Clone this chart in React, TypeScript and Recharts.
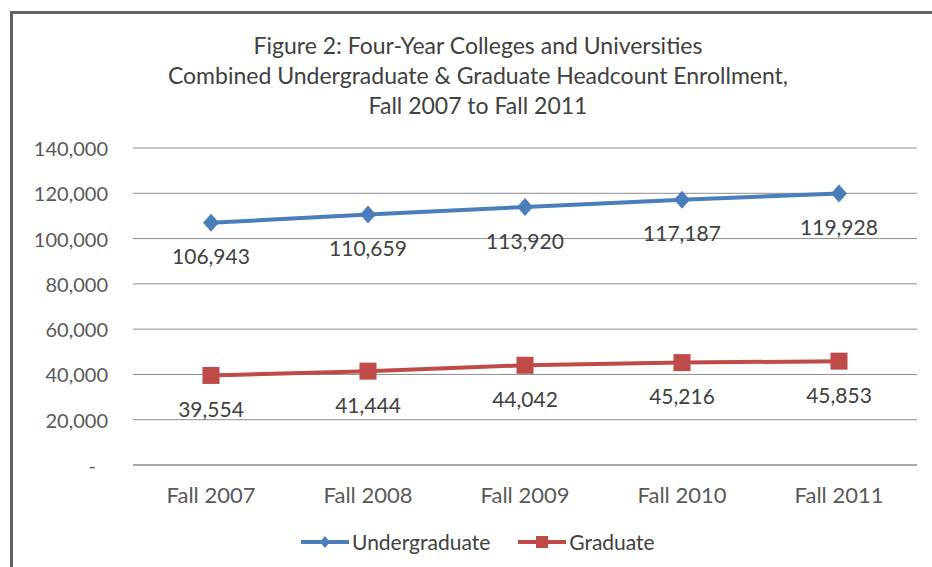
import React from "react";
import {
  LineChart,
  Line,
  XAxis,
  YAxis,
  CartesianGrid,
  Legend,
  LabelList,
} from "recharts";

const years = ["Fall 2007", "Fall 2008", "Fall 2009", "Fall 2010", "Fall 2011"];
const undergraduate = [106943, 110659, 113920, 117187, 119928];
const graduate = [39554, 41444, 44042, 45216, 45853];
const yTicks = [0, 20000, 40000, 60000, 80000, 100000, 120000, 140000];

const data = years.map((year, i) => ({
  year,
  undergrad: undergraduate[i],
  grad: graduate[i],
}));

const FONT = "Lato, 'Noto Sans', sans-serif";
const BLUE = "#4a7ebb";
const RED = "#be4b48";

const fmt = (v: number) => v.toLocaleString("en-US");

const Diamond = (props: any) => {
  const { cx, cy, index } = props;
  if (cx == null || cy == null) return null;
  return (
    <polygon
      key={`d-${index}`}
      points={`${cx},${cy - 9} ${cx + 8},${cy} ${cx},${cy + 9} ${cx - 8},${cy}`}
      fill={BLUE}
    />
  );
};

const Square = (props: any) => {
  const { cx, cy, index } = props;
  if (cx == null || cy == null) return null;
  return <rect key={`s-${index}`} x={cx - 8.5} y={cy - 8.5} width={17} height={17} fill={RED} />;
};

const PointLabel = (props: any) => {
  const { x, y, value } = props;
  return (
    <text
      x={x}
      y={y + 33}
      textAnchor="middle"
      dominantBaseline="central"
      fontFamily={FONT}
      fontSize={21}
      fill="#404040"
    >
      {fmt(value)}
    </text>
  );
};

const YTick = (props: any) => {
  const { x, y, payload } = props;
  const zero = payload.value === 0;
  return (
    <text
      x={zero ? x - 12 : x}
      y={y}
      textAnchor="end"
      dominantBaseline="central"
      fontFamily={FONT}
      fontSize={20}
      fill="#595959"
    >
      {zero ? "-" : fmt(payload.value)}
    </text>
  );
};

const LegendContent = () => (
  <div style={{ display: "flex", alignItems: "center", fontFamily: FONT, fontSize: 21, color: "#404040" }}>
    <svg width={50} height={20}>
      <line x1={1} y1={10} x2={49} y2={10} stroke={BLUE} strokeWidth={4} />
      <polygon points="25,4 30,10 25,16 20,10" fill={BLUE} />
    </svg>
    <span style={{ marginLeft: 2 }}>Undergraduate</span>
    <svg width={50} height={20} style={{ marginLeft: 27 }}>
      <line x1={1} y1={10} x2={49} y2={10} stroke={RED} strokeWidth={4} />
      <rect x={19} y={4} width={12} height={12} fill={RED} />
    </svg>
    <span style={{ marginLeft: 2 }}>Graduate</span>
  </div>
);

export default function App() {
  return (
    <div
      style={{
        position: "absolute",
        left: 0,
        top: 0,
        width: 932,
        height: 567,
        background: "#fff",
        overflow: "hidden",
      }}
    >
      <div
        style={{
          position: "absolute",
          left: 10,
          top: 11,
          width: 940,
          height: 580,
          borderLeft: "3px solid #626262",
          borderTop: "3px solid #626262",
        }}
      />
      <div
        style={{
          position: "absolute",
          left: 24,
          top: 30,
          width: 908,
          textAlign: "center",
          fontFamily: FONT,
          fontSize: 23,
          lineHeight: "30px",
          color: "#404040",
        }}
      >
        Figure 2: Four-Year Colleges and Universities
        <br />
        Combined Undergraduate &amp; Graduate Headcount Enrollment,
        <br />
        Fall 2007 to Fall 2011
      </div>
      <LineChart
        width={932}
        height={567}
        data={data}
        margin={{ top: 148, right: 15, bottom: 72, left: 10 }}
      >
        <CartesianGrid vertical={false} stroke="#8c8c8c" />
        <XAxis
          dataKey="year"
          height={30}
          padding={{ left: 78, right: 78 }}
          axisLine={{ stroke: "#8c8c8c" }}
          tickLine={false}
          tickSize={0}
          tickMargin={22}
          tick={{ fontFamily: FONT, fontSize: 22, fill: "#595959" }}
        />
        <YAxis
          width={123}
          domain={[0, 140000]}
          ticks={yTicks}
          axisLine={false}
          tickLine={false}
          tickSize={0}
          tickMargin={25}
          tick={<YTick />}
        />
        <Legend
          verticalAlign="middle"
          wrapperStyle={{ top: 529, left: 300, width: 420 }}
          content={<LegendContent />}
        />
        <Line
          dataKey="undergrad"
          name="Undergraduate"
          stroke={BLUE}
          strokeWidth={4}
          dot={Diamond}
          activeDot={false}
          isAnimationActive={false}
        >
          <LabelList dataKey="undergrad" content={<PointLabel />} />
        </Line>
        <Line
          dataKey="grad"
          name="Graduate"
          stroke={RED}
          strokeWidth={4}
          dot={Square}
          activeDot={false}
          isAnimationActive={false}
        >
          <LabelList dataKey="grad" content={<PointLabel />} />
        </Line>
      </LineChart>
    </div>
  );
}
